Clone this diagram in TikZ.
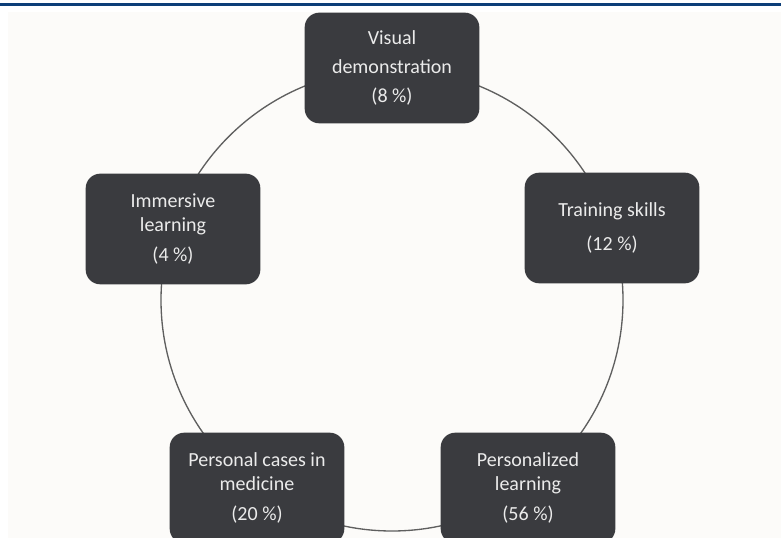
\documentclass[tikz,border=0pt]{standalone}
\usepackage{fontspec}
\setmainfont{Carlito}
\usetikzlibrary{positioning}

\definecolor{boxgray}{RGB}{58,59,63}
\definecolor{ringgray}{RGB}{95,95,95}
\definecolor{topblue}{RGB}{12,62,120}
\definecolor{paper}{RGB}{252,251,249}

\begin{document}
\begin{tikzpicture}[x=0.75pt,y=-0.75pt]

  \tikzstyle{topic}=[rectangle, rounded corners=11pt, fill=boxgray, text=white!92!black, inner sep=0pt, minimum width=131pt, minimum height=83pt, align=center, font=\fontsize{15}{18}\selectfont]
  \tikzstyle{ring}=[draw=ringgray, line width=1pt]

  \useasboundingbox (0,0) rectangle (781,538);
  \clip (0,0) rectangle (781,538);
  \fill[white] (0,0) rectangle (781,538);
  \fill[paper] (8,12) rectangle (781,538);
  \fill[topblue] (0,3) rectangle (781,6.5);

  \coordinate (hub) at (392,300);
  \draw[ring] (hub) circle (173.25pt);

  \node[topic] (visual) at (392,68) {Visual\\[4pt] demonstration\\[4pt] (8 \%)};
  \node[topic] (training) at (612,228) {Training skills\\[8pt] (12 \%)};
  \node[topic] (personalized) at (528,488) {Personalized\\ learning\\[5pt] (56 \%)};
  \node[topic] (cases) at (257,488) {Personal cases in\\ medicine\\[5pt] (20 \%)};
  \node[topic] (immersive) at (173,229) {Immersive\\ learning\\[5pt] (4 \%)};

\end{tikzpicture}
\end{document}
